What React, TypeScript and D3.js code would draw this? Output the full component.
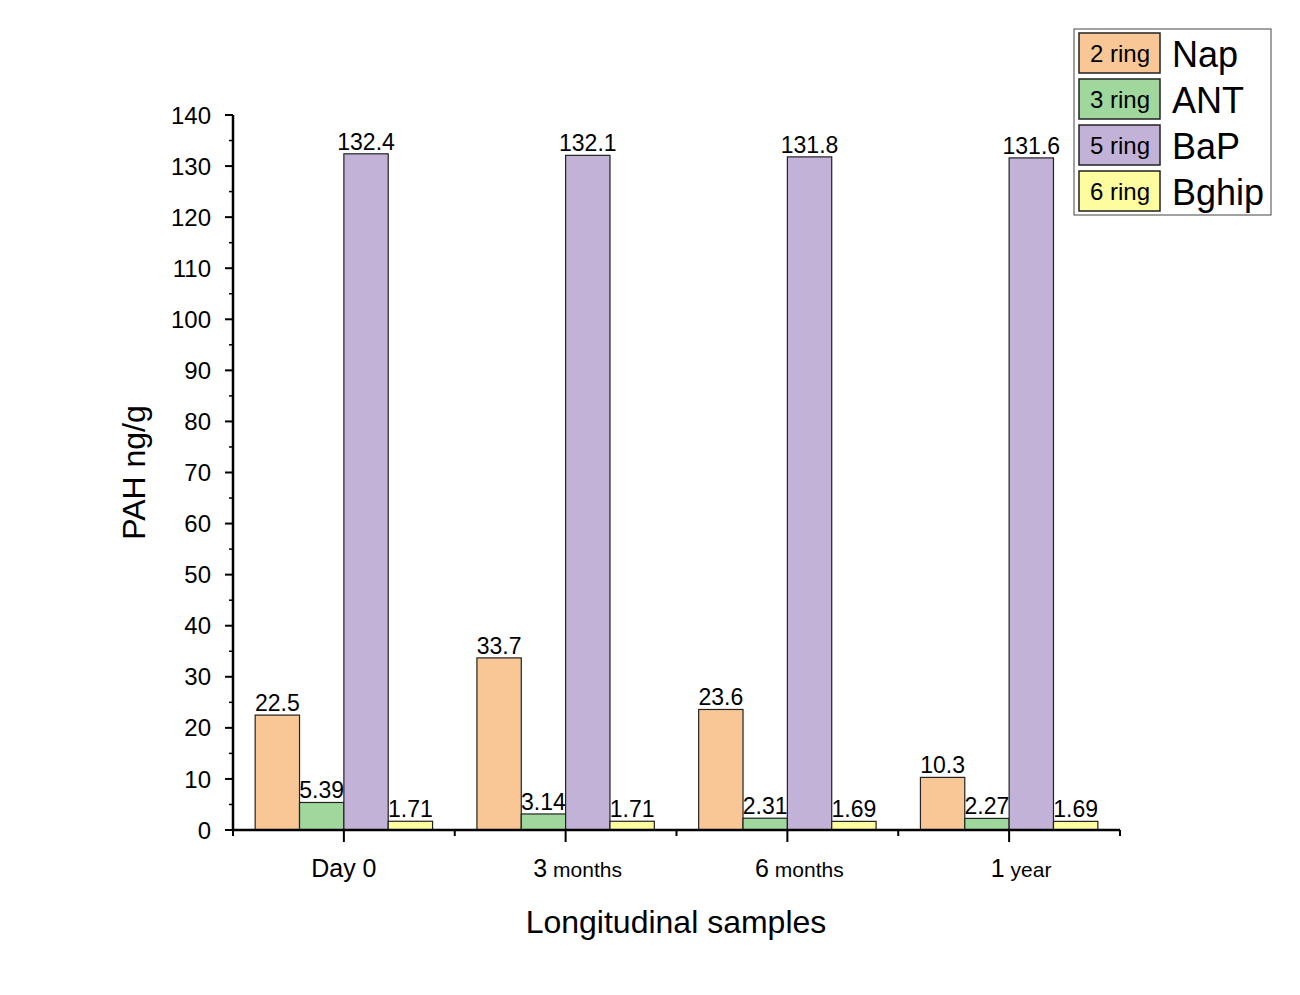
import { useEffect, useRef } from 'react';
import * as d3 from 'd3';

const groups = ['Day 0', '3 months', '6 months', '1 year'];
const groupMain = ['Day 0', '3', '6', '1'];
const groupSub = ['', 'months', 'months', 'year'];
const seriesKeys = ['Nap', 'ANT', 'BaP', 'Bghip'];
const ringLabels = ['2 ring', '3 ring', '5 ring', '6 ring'];
const colors = ['#f9c796', '#9fd79d', '#c3b2d8', '#fdfc9f'];
const napVals = [22.5, 33.7, 23.6, 10.3];
const antVals = [5.39, 3.14, 2.31, 2.27];
const bapVals = [132.4, 132.1, 131.8, 131.6];
const bghipVals = [1.71, 1.71, 1.69, 1.69];
const seriesVals = [napVals, antVals, bapVals, bghipVals];
const yTicks = d3.range(0, 141, 10);

export default function App() {
  const ref = useRef<SVGSVGElement>(null);

  useEffect(() => {
    if (!ref.current) return;
    const svg = d3.select(ref.current);
    svg.selectAll('*').remove();
    const font = 'Arial, Liberation Sans, sans-serif';

    const x0 = 233, x1 = 1120, yTop = 115, yBot = 830;
    const x = d3.scaleBand().domain(groups).range([x0, x1]);
    const inner = d3.scaleBand().domain(seriesKeys).range([0, x.bandwidth()]).paddingOuter(0.5);
    const y = d3.scaleLinear().domain([0, 140]).range([yBot, yTop]);

    // bars
    groups.forEach((g, gi) => {
      seriesKeys.forEach((k, si) => {
        const v = seriesVals[si][gi];
        const bx = x(g)! + inner(k)!;
        svg.append('rect')
          .attr('x', bx).attr('y', y(v))
          .attr('width', inner.bandwidth()).attr('height', yBot - y(v))
          .attr('fill', colors[si]).attr('stroke', '#222').attr('stroke-width', 1.2);
        svg.append('text')
          .attr('x', bx + inner.bandwidth() / 2).attr('y', y(v) - 4)
          .attr('text-anchor', 'middle').attr('font-family', font).attr('font-size', 23)
          .text(String(v));
      });
    });

    // y axis
    svg.append('line').attr('x1', x0).attr('x2', x0).attr('y1', yTop).attr('y2', yBot + 1)
      .attr('stroke', '#000').attr('stroke-width', 2.5);
    yTicks.forEach((t) => {
      svg.append('line').attr('x1', x0 - 8).attr('x2', x0).attr('y1', y(t)).attr('y2', y(t))
        .attr('stroke', '#000').attr('stroke-width', 2);
      if (t < 140) {
        svg.append('line').attr('x1', x0 - 4).attr('x2', x0).attr('y1', y(t + 5)).attr('y2', y(t + 5))
          .attr('stroke', '#000').attr('stroke-width', 1.5);
      }
      svg.append('text').attr('x', x0 - 22).attr('y', y(t)).attr('dy', '0.36em')
        .attr('text-anchor', 'end').attr('font-family', font).attr('font-size', 24).text(t);
    });
    svg.append('text')
      .attr('transform', `translate(145,${(yTop + yBot) / 2}) rotate(-90)`)
      .attr('text-anchor', 'middle').attr('font-family', font).attr('font-size', 32).text('PAH ng/g');

    // x axis
    svg.append('line').attr('x1', x0 - 1).attr('x2', x1).attr('y1', yBot).attr('y2', yBot)
      .attr('stroke', '#000').attr('stroke-width', 2.5);
    groups.forEach((g, gi) => {
      const c = x(g)! + x.bandwidth() / 2;
      svg.append('line').attr('x1', c).attr('x2', c).attr('y1', yBot).attr('y2', yBot + 12)
        .attr('stroke', '#000').attr('stroke-width', 2);
      const t = svg.append('text').attr('x', c + (gi === 0 ? 0 : 12)).attr('y', yBot + 47)
        .attr('text-anchor', 'middle').attr('font-family', font).attr('font-size', 25);
      t.append('tspan').text(groupMain[gi]);
      if (groupSub[gi]) t.append('tspan').attr('font-size', 21).text(' ' + groupSub[gi]);
    });
    d3.range(groups.length + 1).forEach((i) => {
      const bx = x0 + i * x.step();
      svg.append('line').attr('x1', bx).attr('x2', bx).attr('y1', yBot).attr('y2', yBot + 6)
        .attr('stroke', '#000').attr('stroke-width', 2);
    });
    svg.append('text').attr('x', 676).attr('y', 933).attr('text-anchor', 'middle')
      .attr('font-family', font).attr('font-size', 32).text('Longitudinal samples');

    // legend
    svg.append('rect').attr('x', 1074).attr('y', 29).attr('width', 197).attr('height', 186)
      .attr('fill', 'white').attr('stroke', '#444').attr('stroke-width', 1);
    seriesKeys.forEach((k, i) => {
      const ly = 33 + i * 46;
      svg.append('rect').attr('x', 1079).attr('y', ly).attr('width', 81).attr('height', 40)
        .attr('fill', colors[i]).attr('stroke', '#222').attr('stroke-width', 1.5);
      svg.append('text').attr('x', 1120).attr('y', ly + 20).attr('dy', '0.36em')
        .attr('text-anchor', 'middle').attr('font-family', font).attr('font-size', 24).text(ringLabels[i]);
      svg.append('text').attr('x', 1172).attr('y', ly + 21).attr('dy', '0.36em')
        .attr('font-family', font).attr('font-size', 36).text(k);
    });
  }, []);

  return <svg ref={ref} width={1300} height={995} style={{ position: 'absolute', left: 0, top: 0, background: '#fff' }} />;
}
